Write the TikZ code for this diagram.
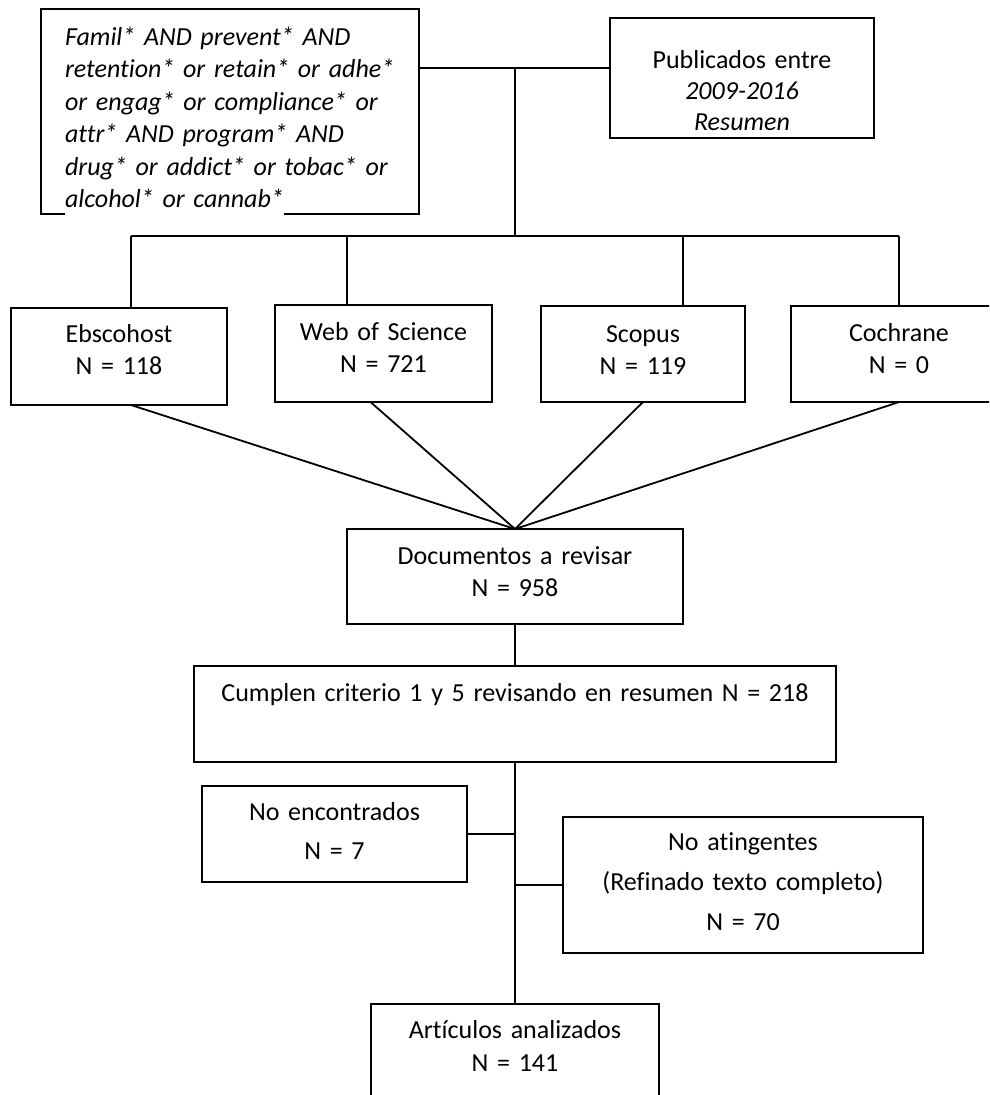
\documentclass[tikz,border=0pt]{standalone}
\usepackage{fontspec}
\setmainfont{Carlito}[Ligatures=CommonOff]
\setlength{\fboxsep}{0pt}

\begin{document}
\begin{tikzpicture}
  [x=1pt,y=-1pt,line width=1.8pt,
   every node/.style={draw,anchor=north west,inner sep=0pt,outer sep=0pt,align=center,
     font=\fontsize{26pt}{32pt}\selectfont}]
  \useasboundingbox (0,0) rectangle (989,1095);
  \clip (0,0) rectangle (989,1095);
  \node[text width=330pt,inner xsep=24pt,align=left,text height=36pt,text depth=169pt,
    font=\fontsize{26pt}{32.5pt}\selectfont\itshape] (q) at (41,9)
    {Famil* AND prevent* AND\\ retention* or retain* or adhe*\\ or engag* or compliance* or\\
     attr* AND program* AND\\ drug* or addict* or tobac* or\\ \colorbox{white}{\strut alcohol* or cannab*}};
  \node[text width=264pt,text height=50pt,text depth=70pt,font=\fontsize{26pt}{31pt}\selectfont]
    (pub) at (610,18) {Publicados entre\\ \textit{2009-2016}\\ \textit{Resumen}};
  \node[text width=216pt,text height=34pt,text depth=63pt] (ebsco) at (11,308) {Ebscohost\\ N = 118};
  \node[text width=217pt,text height=35pt,text depth=62pt] (wos) at (275,305) {Web of Science\\ N = 721};
  \node[text width=204pt,text height=36pt,text depth=60pt] (scopus) at (541,306) {Scopus\\ N = 119};
  \node[text width=216pt,text height=35pt,text depth=61pt] (cochrane) at (791,306) {Cochrane\\ N = 0};
  \node[text width=336pt,text height=35pt,text depth=60pt] (docs) at (347,529)
    {Documentos a revisar\\ N = 958\hspace*{26pt}};
  \node[text width=642pt,text height=35pt,text depth=61pt] (cumplen) at (194,666)
    {Cumplen criterio 1 y 5 revisando en resumen N = 218};
  \node[text width=265pt,text height=34pt,text depth=62pt,font=\fontsize{26pt}{39pt}\selectfont]
    (noenc) at (202,786) {No encontrados\\ N = 7};
  \node[text width=360pt,text height=33pt,text depth=103pt,font=\fontsize{26pt}{40pt}\selectfont]
    (noat) at (563,817) {No atingentes\\ (Refinado texto completo)\\ N = 70};
  \node[text width=288pt,text height=34pt,text depth=72pt,font=\fontsize{26pt}{33pt}\selectfont]
    (arts) at (371,1004) {Artículos analizados\\ N = 141};

  \coordinate (top) at (515,68);
  \coordinate (busL) at (131,236);
  \coordinate (busR) at (899,236);
  \draw (q.east |- top) -- (pub.west |- top);
  \draw (top) -- (top |- busL);
  \draw (busL) -- (busR);
  \foreach \x/\n in {131/ebsco,347/wos,683/scopus,899/cochrane}{
    \coordinate (drop\n) at (\x,236);
    \draw (drop\n) -- (drop\n |- \n.north);
  }
  \foreach \n/\s in {ebsco/12,wos/-13,scopus/0,cochrane/0}
    \draw ([xshift=\s pt]\n.south) -- (docs.north);
  \draw (docs.south) -- (docs.south |- cumplen.north);
  \draw (cumplen.south) -- (arts.north);
  \draw (noenc.east) -- (noenc.east -| cumplen.south);
  \draw (noat.west) -- (noat.west -| cumplen.south);
\end{tikzpicture}
\end{document}
